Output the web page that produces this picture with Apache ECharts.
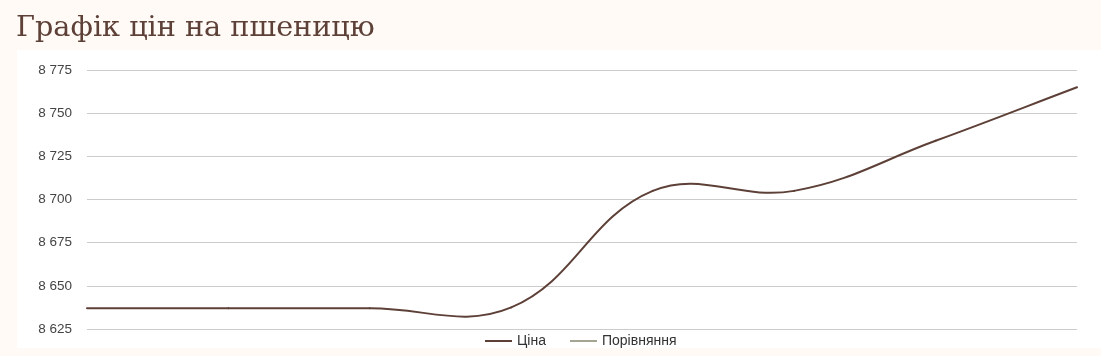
<!DOCTYPE html>
<html>
<head>
<meta charset="utf-8">
<script src="https://cdn.jsdelivr.net/npm/echarts@6/dist/echarts.min.js"></script>
<style>
  html, body { margin: 0; padding: 0; background: #fffaf6; }
  #panel { position: absolute; left: 17px; top: 50px; width: 1084px; height: 298px; background: #ffffff; }
  #chart { position: absolute; left: 0; top: 0; width: 1101px; height: 356px; }
</style>
</head>
<body>
<div id="panel"></div>
<div id="chart"></div>
<script>
const titleText = 'Графік цін на пшеницю';
const categories = ['1', '2', '3', '4', '5', '6', '7', '8'];
const priceName = 'Ціна';
const compareName = 'Порівняння';
const priceValues = [8637, 8637, 8637, 8637.5, 8705, 8705, 8734, 8765];
const compareValues = [];
const yMin = 8625;
const yMax = 8775;
const yStep = 25;

const priceColor = '#5D4037';
const compareColor = '#A5A593';
const tension = 0.4;

// Cardinal spline segment (tension-based control points), drawn through the axis scales.
function renderPriceSegment(params, api) {
  const i = params.dataIndex;
  const n = priceValues.length;
  if (i >= n - 1) return null;
  const pt = j => api.coord([Math.max(0, Math.min(n - 1, j)), priceValues[Math.max(0, Math.min(n - 1, j))]]);
  function cps(j) {
    const p = pt(j), prev = pt(j - 1), next = pt(j + 1);
    const d01 = Math.hypot(p[0] - prev[0], p[1] - prev[1]);
    const d12 = Math.hypot(next[0] - p[0], next[1] - p[1]);
    let s01 = d01 / (d01 + d12), s12 = d12 / (d01 + d12);
    if (!isFinite(s01)) s01 = 0;
    if (!isFinite(s12)) s12 = 0;
    const fa = tension * s01, fb = tension * s12;
    return {
      before: [p[0] - fa * (next[0] - prev[0]), p[1] - fa * (next[1] - prev[1])],
      after: [p[0] + fb * (next[0] - prev[0]), p[1] + fb * (next[1] - prev[1])]
    };
  }
  const a = pt(i), b = pt(i + 1);
  const ca = cps(i), cb = cps(i + 1);
  return {
    type: 'bezierCurve',
    shape: {
      x1: a[0], y1: a[1], x2: b[0], y2: b[1],
      cpx1: ca.after[0], cpy1: ca.after[1], cpx2: cb.before[0], cpy2: cb.before[1]
    },
    style: { stroke: priceColor, lineWidth: 2, fill: null, lineCap: 'round' }
  };
}

const chart = echarts.init(document.getElementById('chart'), null, { renderer: 'canvas' });
chart.setOption({
  backgroundColor: 'transparent',
  animation: false,
  title: {
    text: titleText,
    left: 11,
    top: 9,
    textStyle: { fontFamily: 'DejaVu Serif', fontSize: 28.7, fontWeight: 'normal', color: '#5D4037' }
  },
  legend: {
    top: 329,
    left: 480,
    icon: 'rect',
    itemWidth: 27,
    itemHeight: 2,
    itemGap: 24,
    textStyle: { fontFamily: 'Liberation Sans, Arial', fontSize: 14, color: '#333' },
    data: [priceName, compareName]
  },
  grid: { left: 87, right: 24, top: 70, bottom: 27, containLabel: false },
  xAxis: {
    type: 'category',
    data: categories,
    boundaryGap: false,
    axisLine: { show: false },
    axisTick: { show: false },
    axisLabel: { show: false },
    splitLine: { show: false }
  },
  yAxis: {
    type: 'value',
    min: yMin,
    max: yMax,
    interval: yStep,
    axisLine: { show: false },
    axisTick: { show: false },
    axisLabel: {
      margin: 15,
      fontFamily: 'Liberation Sans, Arial',
      fontSize: 13.5,
      color: '#444',
      formatter: v => String(v).replace(/\B(?=(\d{3})+(?!\d))/g, ' ')
    },
    splitLine: { lineStyle: { color: '#cccccc', width: 1 } }
  },
  series: [
    {
      name: priceName,
      type: 'custom',
      data: priceValues.map((v, i) => [i, v]),
      encode: { x: 0, y: 1 },
      renderItem: renderPriceSegment,
      itemStyle: { color: priceColor }
    },
    {
      name: compareName,
      type: 'line',
      data: compareValues,
      symbol: 'none',
      lineStyle: { color: compareColor, width: 2 },
      itemStyle: { color: compareColor }
    }
  ]
});
</script>
</body>
</html>
